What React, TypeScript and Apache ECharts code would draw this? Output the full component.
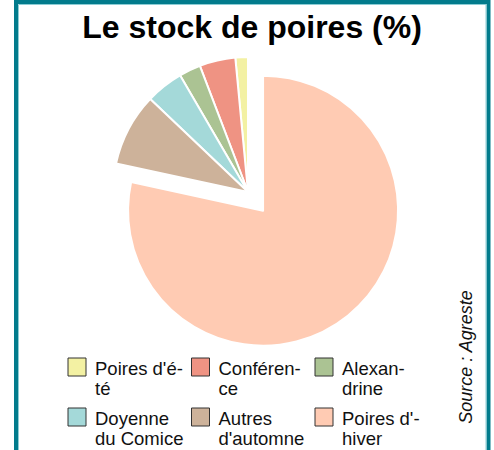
import React, { useEffect, useRef } from "react";
import * as echarts from "echarts";

const categories = [
  "Poires d'été",
  "Conférence",
  "Alexandrine",
  "Doyenne du Comice",
  "Autres d'automne",
  "Poires d'hiver",
];
const values = [1.5, 4.3, 2.6, 4.5, 8.7, 78.4];
const colors = ["#f3f1a3", "#ef9383", "#abc393", "#a4d9d9", "#cdb29a", "#ffcbb3"];
const legendLines = [
  ["Poires d'é-", "té"],
  ["Conféren-", "ce"],
  ["Alexan-", "drine"],
  ["Doyenne", "du Comice"],
  ["Autres", "d'automne"],
  ["Poires d'-", "hiver"],
];
const titleText = "Le stock de poires (%)";
const sourceText = "Source : Agreste";

const FONT = "'Liberation Sans', Arial, Helvetica, sans-serif";

export default function App() {
  const ref = useRef<HTMLDivElement>(null);
  useEffect(() => {
    if (!ref.current) return;
    const chart = echarts.init(ref.current, null, { renderer: "svg" });

    const legendGraphics: any[] = [];
    categories.forEach((name, i) => {
      const col = i % 3;
      const row = Math.floor(i / 3);
      const x = 68 + col * 123.5;
      const y = 358 + row * 50;
      legendGraphics.push({
        type: "rect",
        shape: { x, y, width: 18, height: 18 },
        style: { fill: colors[i], stroke: "#333", lineWidth: 1 },
        silent: true,
      });
      legendGraphics.push({
        type: "text",
        x: x + 27,
        y: y + 0.5,
        style: {
          text: legendLines[i].join("\n"),
          fill: "#111",
          font: `18.5px ${FONT}`,
          lineHeight: 20,
          textAlign: "left",
          textVerticalAlign: "top",
        },
        silent: true,
      });
    });

    chart.setOption({
      animation: false,
      title: {
        text: titleText,
        left: 252,
        textAlign: "center",
        top: 10,
        padding: 0,
        textStyle: {
          fontFamily: FONT,
          fontSize: 32,
          fontWeight: "bold",
          color: "#000",
          lineHeight: 33,
        },
      },
      series: [
        {
          type: "pie",
          center: [248, 192],
          radius: 135,
          startAngle: 90,
          clockwise: false,
          selectedMode: "single",
          selectedOffset: 24,
          silent: true,
          label: { show: false },
          labelLine: { show: false },
          emphasis: { disabled: true },
          itemStyle: { borderColor: "#fff", borderWidth: 2 },
          data: categories.map((name, i) => ({
            name,
            value: values[i],
            selected: i === categories.length - 1,
            itemStyle: { color: colors[i] },
          })),
        },
      ],
      graphic: [
        {
          type: "rect",
          shape: { x: 16, y: 2, width: 472.5, height: 520 },
          style: { fill: "none", stroke: "#027b8c", lineWidth: 4 },
          silent: true,
        },
        {
          type: "rect",
          shape: { x: 18.5, y: 4.5, width: 467.5, height: 515 },
          style: { fill: "none", stroke: "#8ccdd5", lineWidth: 1 },
          silent: true,
        },
        ...legendGraphics,
        {
          type: "text",
          x: 466,
          y: 357,
          rotation: Math.PI / 2,
          style: {
            text: sourceText,
            fill: "#111",
            font: `italic 18px ${FONT}`,
            textAlign: "center",
            textVerticalAlign: "middle",
          },
          silent: true,
        },
      ],
    });
    return () => chart.dispose();
  }, []);
  return (
    <div
      ref={ref}
      style={{ position: "fixed", left: 0, top: 0, width: 494, height: 450, background: "#fff" }}
    />
  );
}
